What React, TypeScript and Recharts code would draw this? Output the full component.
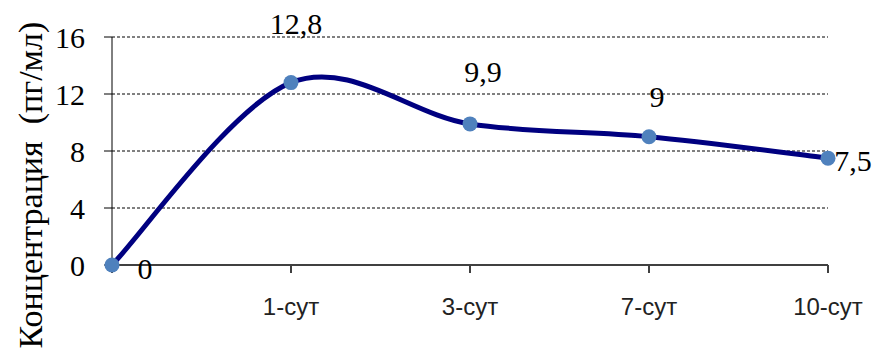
import React from "react"
import { LineChart, Line, XAxis, YAxis, CartesianGrid, LabelList } from "recharts"

// Values
const days = ["", "1-сут", "3-сут", "7-сут", "10-сут"]
const concentration = [0, 12.8, 9.9, 9, 7.5]
const yTicks = [0, 4, 8, 12, 16]
const yTitle = "Концентрация  (пг/мл)"

const data = days.map((day, i) => ({ day, value: concentration[i] }))

const SERIF = "Liberation Serif, DejaVu Serif, serif"

// Excel-like smoothed line (Catmull-Rom style bezier)
function smoothCurve(context: any) {
  let pts: number[][] = []
  return {
    areaStart() {},
    areaEnd() {},
    lineStart() {
      pts = []
    },
    point(x: number, y: number) {
      pts.push([+x, +y])
    },
    lineEnd() {
      if (!pts.length) return
      context.moveTo(pts[0][0], pts[0][1])
      for (let i = 0; i < pts.length - 1; i++) {
        const p0 = pts[Math.max(i - 1, 0)]
        const p1 = pts[i]
        const p2 = pts[i + 1]
        const p3 = pts[Math.min(i + 2, pts.length - 1)]
        const c1x = p1[0] + (p2[0] - p0[0]) / 6
        const c1y = p1[1] + (p2[1] - p0[1]) / 6
        const c2x = p2[0] - (p3[0] - p1[0]) / 6
        const c2y = p2[1] - (p3[1] - p1[1]) / 6
        context.bezierCurveTo(c1x, c1y, c2x, c2y, p2[0], p2[1])
      }
    },
  }
}

// where Excel put each data label, relative to its point
const labelShift = [
  [33, 3],
  [5, -59],
  [13, -52],
  [8, -40],
  [25, 2],
]

function ValueLabel(props: any) {
  const { x, y, value, index } = props
  const [dx, dy] = labelShift[index] || [0, -20]
  return (
    <text x={x + dx} y={y + dy} dy="0.35em" textAnchor="middle" fontSize={30} fill="#000" style={{ fontFamily: SERIF }}>
      {String(value).replace(".", ",")}
    </text>
  )
}

function YTick(props: any) {
  const { x, y, payload } = props
  return (
    <text x={x} y={y} dy="0.35em" textAnchor="end" fontSize={30} fill="#000" style={{ fontFamily: SERIF }}>
      {payload.value}
    </text>
  )
}

function YTitle() {
  return (
    <text
      x={42}
      y={185}
      transform="rotate(-90, 42, 185)"
      textAnchor="middle"
      fontSize={34}
      fill="#000"
      style={{ fontFamily: SERIF, whiteSpace: "pre" }}
    >
      {yTitle}
    </text>
  )
}

export default function App() {
  return (
    <div style={{ position: "absolute", left: 0, top: 0, width: 877, height: 363, background: "#fff" }}>
      <LineChart width={877} height={363} data={data} margin={{ top: 37, right: 49, bottom: 38, left: 0 }}>
        <CartesianGrid vertical={false} stroke="#000" strokeDasharray="3 2" />
        <XAxis
          dataKey="day"
          height={60}
          axisLine={{ stroke: "#404040", strokeWidth: 2 }}
          tickLine={{ stroke: "#404040", strokeWidth: 2 }}
          tickSize={8}
          tickMargin={25}
          tick={{ fill: "#222", fontSize: 24, fontFamily: "Liberation Sans, Arial, sans-serif" }}
          interval={0}
        />
        <YAxis
          width={112}
          domain={[0, 16]}
          ticks={yTicks}
          axisLine={{ stroke: "#000" }}
          tickLine={{ stroke: "#000" }}
          tickSize={8}
          tickMargin={19}
          tick={<YTick />}
          label={<YTitle />}
        />
        <Line
          dataKey="value"
          type={smoothCurve as any}
          stroke="#000080"
          strokeWidth={5}
          dot={{ r: 7.5, fill: "#4F81BD", stroke: "none" }}
          activeDot={false}
          isAnimationActive={false}
        >
          <LabelList dataKey="value" content={<ValueLabel />} />
        </Line>
      </LineChart>
    </div>
  )
}
